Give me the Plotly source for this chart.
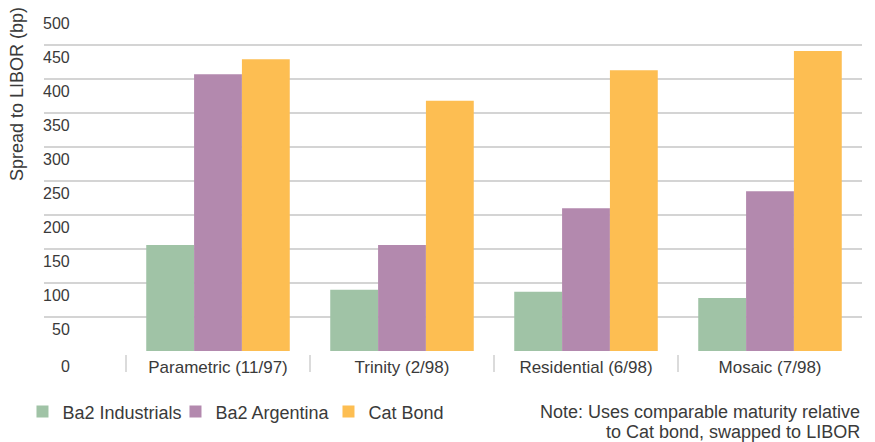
import plotly.graph_objects as go

# Spread to LIBOR (basis points) by cat bond deal
categories = ["Parametric (11/97)", "Trinity (2/98)", "Residential (6/98)", "Mosaic (7/98)"]
ba2_industrials = [156, 90, 87, 78]
ba2_argentina = [407, 156, 210, 235]
cat_bond = [429, 368, 413, 441]
y_ticks = [0, 50, 100, 150, 200, 250, 300, 350, 400, 450, 500]
note_lines = ["Note: Uses comparable maturity relative", "to Cat bond, swapped to LIBOR"]

series = [
    ("Ba2 Industrials", ba2_industrials, "#A0C3A6"),
    ("Ba2 Argentina", ba2_argentina, "#B389AE"),
    ("Cat Bond", cat_bond, "#FDBE52"),
]

TEXT = "#3a3a3a"
FONT = "Liberation Sans, Arial, sans-serif"

fig = go.Figure()
for name, vals, color in series:
    fig.add_trace(go.Bar(
        x=list(range(len(categories))), y=vals, name=name,
        marker=dict(color=color, line=dict(width=0)),
    ))

fig.update_layout(
    width=875, height=442,
    margin=dict(l=44, r=13, t=11, b=91),
    paper_bgcolor="white", plot_bgcolor="white",
    barmode="group", bargap=0.22, bargroupgap=0,
    font=dict(family=FONT, color=TEXT, size=17),
    showlegend=True,
    legend=dict(
        orientation="h", x=-0.0263, xanchor="left", y=-0.179, yanchor="middle",
        font=dict(size=18, color=TEXT), bgcolor="rgba(0,0,0,0)",
        itemclick=False, traceorder="normal", entrywidth=108,
    ),
)

fig.update_xaxes(
    range=[-0.5 - 82 / 184, len(categories) - 0.5],
    tickmode="array", tickvals=list(range(len(categories))), ticktext=categories,
    ticks="", showgrid=False, zeroline=False, showline=False,
    tickfont=dict(size=17, color=TEXT), ticklabelstandoff=4,
)
fig.update_yaxes(
    range=[0, 500], tickvals=y_ticks, showticklabels=False,
    showgrid=True, gridcolor="#d4d4d4", gridwidth=2,
    zeroline=False, showline=False, ticks="",
)

# value labels sit just below their gridlines, right-aligned inside the plot
for v in y_ticks:
    fig.add_annotation(
        x=28 / 818, xref="paper", y=v, yref="y", text=str(v),
        showarrow=False, xanchor="right", yanchor="middle",
        yshift=-15 if v == 0 else -12, font=dict(size=16, color=TEXT),
    )

# category separators below the baseline
for i in range(len(categories)):
    fig.add_shape(
        type="line", xref="x", yref="paper",
        x0=i - 0.5, x1=i - 0.5, y0=-4 / 340, y1=-21 / 340,
        line=dict(color="#cfcfcf", width=1.5),
    )

fig.add_annotation(
    x=(17 - 44) / 818, xref="paper", y=(351 - 94) / 340, yref="paper",
    text="Spread to LIBOR (bp)", textangle=-90, showarrow=False,
    xanchor="center", yanchor="middle", font=dict(size=18, color=TEXT),
)

# footnote, one annotation per line for tighter leading
for k, line in enumerate(note_lines):
    fig.add_annotation(
        x=1.0, xref="paper", y=(351 - (412 + 20 * k)) / 340, yref="paper",
        text=line, showarrow=False, xanchor="right", yanchor="middle",
        font=dict(size=18, color=TEXT),
    )

fig.write_html("out.html")
